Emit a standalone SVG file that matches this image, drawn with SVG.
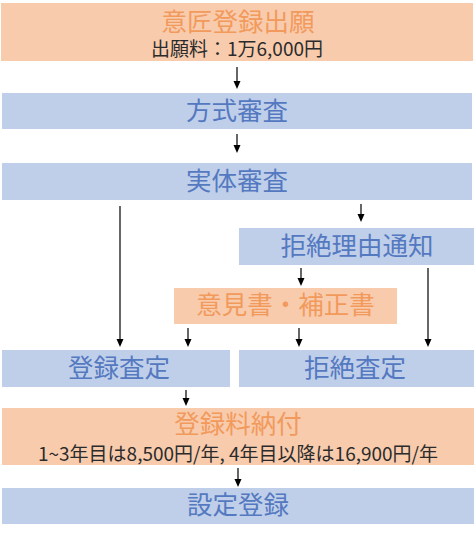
<svg xmlns="http://www.w3.org/2000/svg" width="474" height="537" viewBox="0 0 474 537">
<style>
.or{fill:#F8CBAD}
.bl{fill:#BFCFEA}
.ot{fill:#F29A5C;font-family:"Noto Sans CJK JP","Noto Sans",sans-serif;font-size:25.5px;text-anchor:middle}
.bt{fill:#5479C0;font-family:"Noto Sans CJK JP","Noto Sans",sans-serif;font-size:25.5px;text-anchor:middle}
.st{fill:#2b2b2b;font-family:"Noto Sans CJK JP","Noto Sans",sans-serif;font-size:19px;text-anchor:middle}
.ln{stroke:#000;stroke-width:1.2}
</style>
<rect width="474" height="537" fill="#fff"/>
<g id="n1"><rect class="or" x="1" y="3" width="472" height="58"/><text class="ot" x="238" y="31">意匠登録出願</text><text class="st" x="237" y="56">出願料：1万6,000円</text></g>
<g id="n2"><rect class="bl" x="2" y="93" width="470" height="36"/><text class="bt" x="237" y="120">方式審査</text></g>
<g id="n3"><rect class="bl" x="2" y="163" width="470" height="37"/><text class="bt" x="237" y="190">実体審査</text></g>
<g id="n4"><rect class="bl" x="239" y="228" width="235" height="37"/><text class="bt" x="357" y="255">拒絶理由通知</text></g>
<g id="n5"><rect class="or" x="174" y="288" width="223" height="36"/><text class="ot" x="285.5" y="314">意見書・補正書</text></g>
<g id="n6"><rect class="bl" x="2" y="350" width="228" height="37"/><text class="bt" x="119" y="377">登録査定</text></g>
<g id="n7"><rect class="bl" x="239" y="350" width="235" height="37"/><text class="bt" x="355" y="377">拒絶査定</text></g>
<g id="n8"><rect class="or" x="2" y="408" width="472" height="57"/><text class="ot" x="238" y="433">登録料納付</text><text class="st" x="238" y="461">1~3年目は8,500円/年, 4年目以降は16,900円/年</text></g>
<g id="n9"><rect class="bl" x="2" y="488" width="472" height="36"/><text class="bt" x="238" y="514">設定登録</text></g>
<g id="connectors">
<line class="ln" x1="237" y1="67" x2="237" y2="82"/>
<path d="M233.5,81 L240.5,81 L237,89 Z"/>
<line class="ln" x1="237" y1="134" x2="237" y2="146"/>
<path d="M233.5,145 L240.5,145 L237,153 Z"/>
<line class="ln" x1="361" y1="204" x2="361" y2="215"/>
<path d="M357.5,214 L364.5,214 L361,222 Z"/>
<line class="ln" x1="120" y1="206" x2="120" y2="340"/>
<path d="M116.5,339 L123.5,339 L120,347 Z"/>
<line class="ln" x1="301" y1="268" x2="301" y2="279"/>
<path d="M297.5,278 L304.5,278 L301,286 Z"/>
<line class="ln" x1="428" y1="268" x2="428" y2="340"/>
<path d="M424.5,339 L431.5,339 L428,347 Z"/>
<line class="ln" x1="188" y1="328" x2="188" y2="340"/>
<path d="M184.5,339 L191.5,339 L188,347 Z"/>
<line class="ln" x1="299" y1="328" x2="299" y2="340"/>
<path d="M295.5,339 L302.5,339 L299,347 Z"/>
<line class="ln" x1="186" y1="390" x2="186" y2="399"/>
<path d="M182.5,398 L189.5,398 L186,406 Z"/>
<line class="ln" x1="238" y1="468" x2="238" y2="480"/>
<path d="M234.5,479 L241.5,479 L238,487 Z"/>
</g>
</svg>
